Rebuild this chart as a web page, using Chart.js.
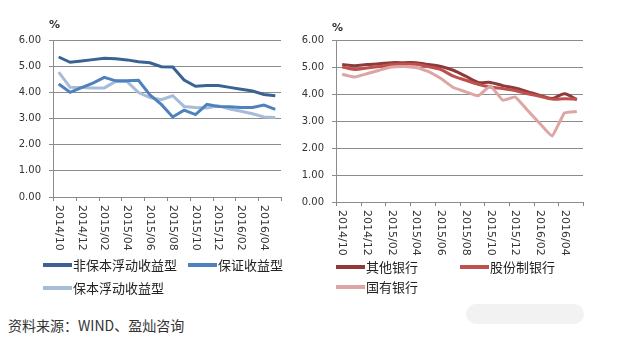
<!DOCTYPE html>
<html>
<head>
<meta charset="UTF-8">
<title>理财产品收益率</title>
<script src="https://cdn.jsdelivr.net/npm/chart.js"></script>
<script>
// 月份 2014/10 - 2016/05
var months = ['2014/10','2014/11','2014/12','2015/01','2015/02','2015/03','2015/04','2015/05','2015/06','2015/07',
              '2015/08','2015/09','2015/10','2015/11','2015/12','2016/01','2016/02','2016/03','2016/04','2016/05'];
var yTicks = [0, 1, 2, 3, 4, 5, 6];

// 左图：按收益类型
var feiBaoBen = [5.35,5.15,5.20,5.25,5.30,5.28,5.24,5.17,5.13,4.98,4.97,4.47,4.23,4.26,4.26,4.19,4.12,4.05,3.92,3.87];
var baoZheng  = [4.32,4.00,4.18,4.35,4.57,4.44,4.44,4.46,3.90,3.54,3.06,3.32,3.15,3.54,3.46,3.45,3.42,3.42,3.51,3.35];
var baoBen    = [4.77,4.19,4.18,4.17,4.17,4.42,4.41,3.99,3.80,3.72,3.87,3.46,3.42,3.40,3.49,3.36,3.28,3.18,3.06,3.04];

// 右图：按银行类型
var qiTa      = [5.09,5.05,5.09,5.12,5.16,5.16,5.16,5.09,5.02,4.88,4.66,4.43,4.43,4.31,4.22,4.09,3.95,3.83,4.01,3.79];
var guFen     = [5.00,4.91,4.96,5.02,5.09,5.11,5.10,5.01,4.90,4.66,4.51,4.36,4.26,4.20,4.13,4.01,3.92,3.81,3.82,3.81];
var guoYou    = [4.73,4.63,4.75,4.88,5.00,5.02,4.98,4.83,4.57,4.24,4.08,3.93,4.30,3.77,3.89,3.40,2.91,2.44,3.30,3.35];
</script>
<style>
body { margin: 0; background: #fff; }
#wrap { position: relative; width: 618px; height: 340px; overflow: hidden; font-family: "Noto Sans CJK SC", sans-serif; color: #222; }
.box { position: absolute; top: 0; }
.pct { position: absolute; font: bold 11px "DejaVu Sans", sans-serif; color: #333; }
.leg { position: absolute; font-size: 13px; line-height: 16px; white-space: nowrap; }
.leg i { display: inline-block; width: 29px; height: 4px; vertical-align: middle; margin-right: 1px; position: relative; top: -1px; }
#src { position: absolute; left: 8px; top: 315px; font-size: 14px; color: #333; }
#mark { position: absolute; left: 466px; top: 304px; width: 118px; height: 20px; border-radius: 10px; background: #f2f2f2; }
</style>
</head>
<body>
<div id="wrap">
	<div class="box" style="left:0;width:300px;height:262px"><canvas id="leftChart" width="300" height="262"></canvas></div>
	<div class="box" style="left:290px;width:310px;height:262px"><canvas id="rightChart" width="310" height="262"></canvas></div>

	<div class="pct" style="left:49px;top:18px">%</div>
	<div class="pct" style="left:332px;top:21px">%</div>

	<div class="leg" style="left:43px;top:257px"><i style="background:#3A6394"></i>非保本浮动收益型</div>
	<div class="leg" style="left:188px;top:257px"><i style="background:#4F81BD"></i>保证收益型</div>
	<div class="leg" style="left:43px;top:280px"><i style="background:#A7BCD8"></i>保本浮动收益型</div>

	<div class="leg" style="left:336px;top:259px"><i style="background:#8E3A3A"></i>其他银行</div>
	<div class="leg" style="left:460px;top:259px"><i style="background:#C0504D"></i>股份制银行</div>
	<div class="leg" style="left:336px;top:279px"><i style="background:#DDA5A3"></i>国有银行</div>

	<div id="mark"></div>
	<div id="src">资料来源：WIND、盈灿咨询</div>
</div>

<script>
// x轴：每两个月一个刻度，标签顺时针竖排
var monthAxis = {
	id: 'monthAxis',
	afterDraw: function(chart) {
		var ctx = chart.ctx;
		var xs = chart.scales.x;
		var n = months.length;
		var edge = function(i) {
			if (i <= 0) return xs.left;
			if (i >= n) return xs.right;
			return (xs.getPixelForValue(i - 1) + xs.getPixelForValue(i)) / 2;
		};
		ctx.save();
		ctx.strokeStyle = '#868686';
		ctx.lineWidth = 1;
		for (var i = 0; i <= n; i += 2) {
			var px = Math.round(edge(i)) + 0.5;
			ctx.beginPath();
			ctx.moveTo(px, xs.top);
			ctx.lineTo(px, xs.top + 4);
			ctx.stroke();
		}
		ctx.fillStyle = '#333';
		ctx.font = '11px "DejaVu Sans", sans-serif';
		ctx.textAlign = 'left';
		ctx.textBaseline = 'middle';
		for (var j = 0; j < n; j += 2) {
			ctx.save();
			ctx.translate(xs.getPixelForValue(j), xs.top + 8);
			ctx.rotate(Math.PI / 2);
			ctx.fillText(months[j], 0, 0);
			ctx.restore();
		}
		ctx.restore();
	}
};

function makeChart(id, sets, yWidth, xHeight, padRight, tension) {
	return new Chart(document.getElementById(id), {
		type: 'line',
		data: {
			labels: months,
			datasets: sets.map(function(s) {
				return {
					label: s[0], data: s[1], borderColor: s[2], backgroundColor: s[2],
					borderWidth: 3, pointRadius: 0, fill: false, tension: s[3]
				};
			})
		},
		options: {
			responsive: false,
			animation: false,
			layout: { padding: { top: 40, left: 0, right: padRight, bottom: 0 } },
			plugins: { legend: { display: false }, tooltip: { enabled: false } },
			scales: {
				x: {
					offset: true,
					grid: { display: false },
					border: { display: false },
					ticks: { display: false },
					afterFit: function(s) { s.height = xHeight; }
				},
				y: {
					min: 0, max: 6,
					afterBuildTicks: function(s) { s.ticks = yTicks.map(function(v) { return { value: v }; }); },
					ticks: {
						padding: 8,
						color: '#333',
						font: { family: 'DejaVu Sans', size: 10 },
						callback: function(v) { return Number(v).toFixed(2); }
					},
					grid: { color: '#8c8c8c', lineWidth: 1, tickLength: 4, drawTicks: true },
					border: { display: true, color: '#8c8c8c' },
					afterFit: function(s) { s.width = yWidth; }
				}
			}
		},
		plugins: [monthAxis]
	});
}

makeChart('leftChart', [
	['非保本浮动收益型', feiBaoBen, '#3A6394', 0],
	['保证收益型', baoZheng, '#4F81BD', 0],
	['保本浮动收益型', baoBen, '#A7BCD8', 0]
], 53, 65, 19);

makeChart('rightChart', [
	['国有银行', guoYou, '#DDA5A3', 0.1],
	['股份制银行', guFen, '#C0504D', 0.3],
	['其他银行', qiTa, '#8E3A3A', 0.3]
], 46, 60, 17);
</script>
</body>
</html>
